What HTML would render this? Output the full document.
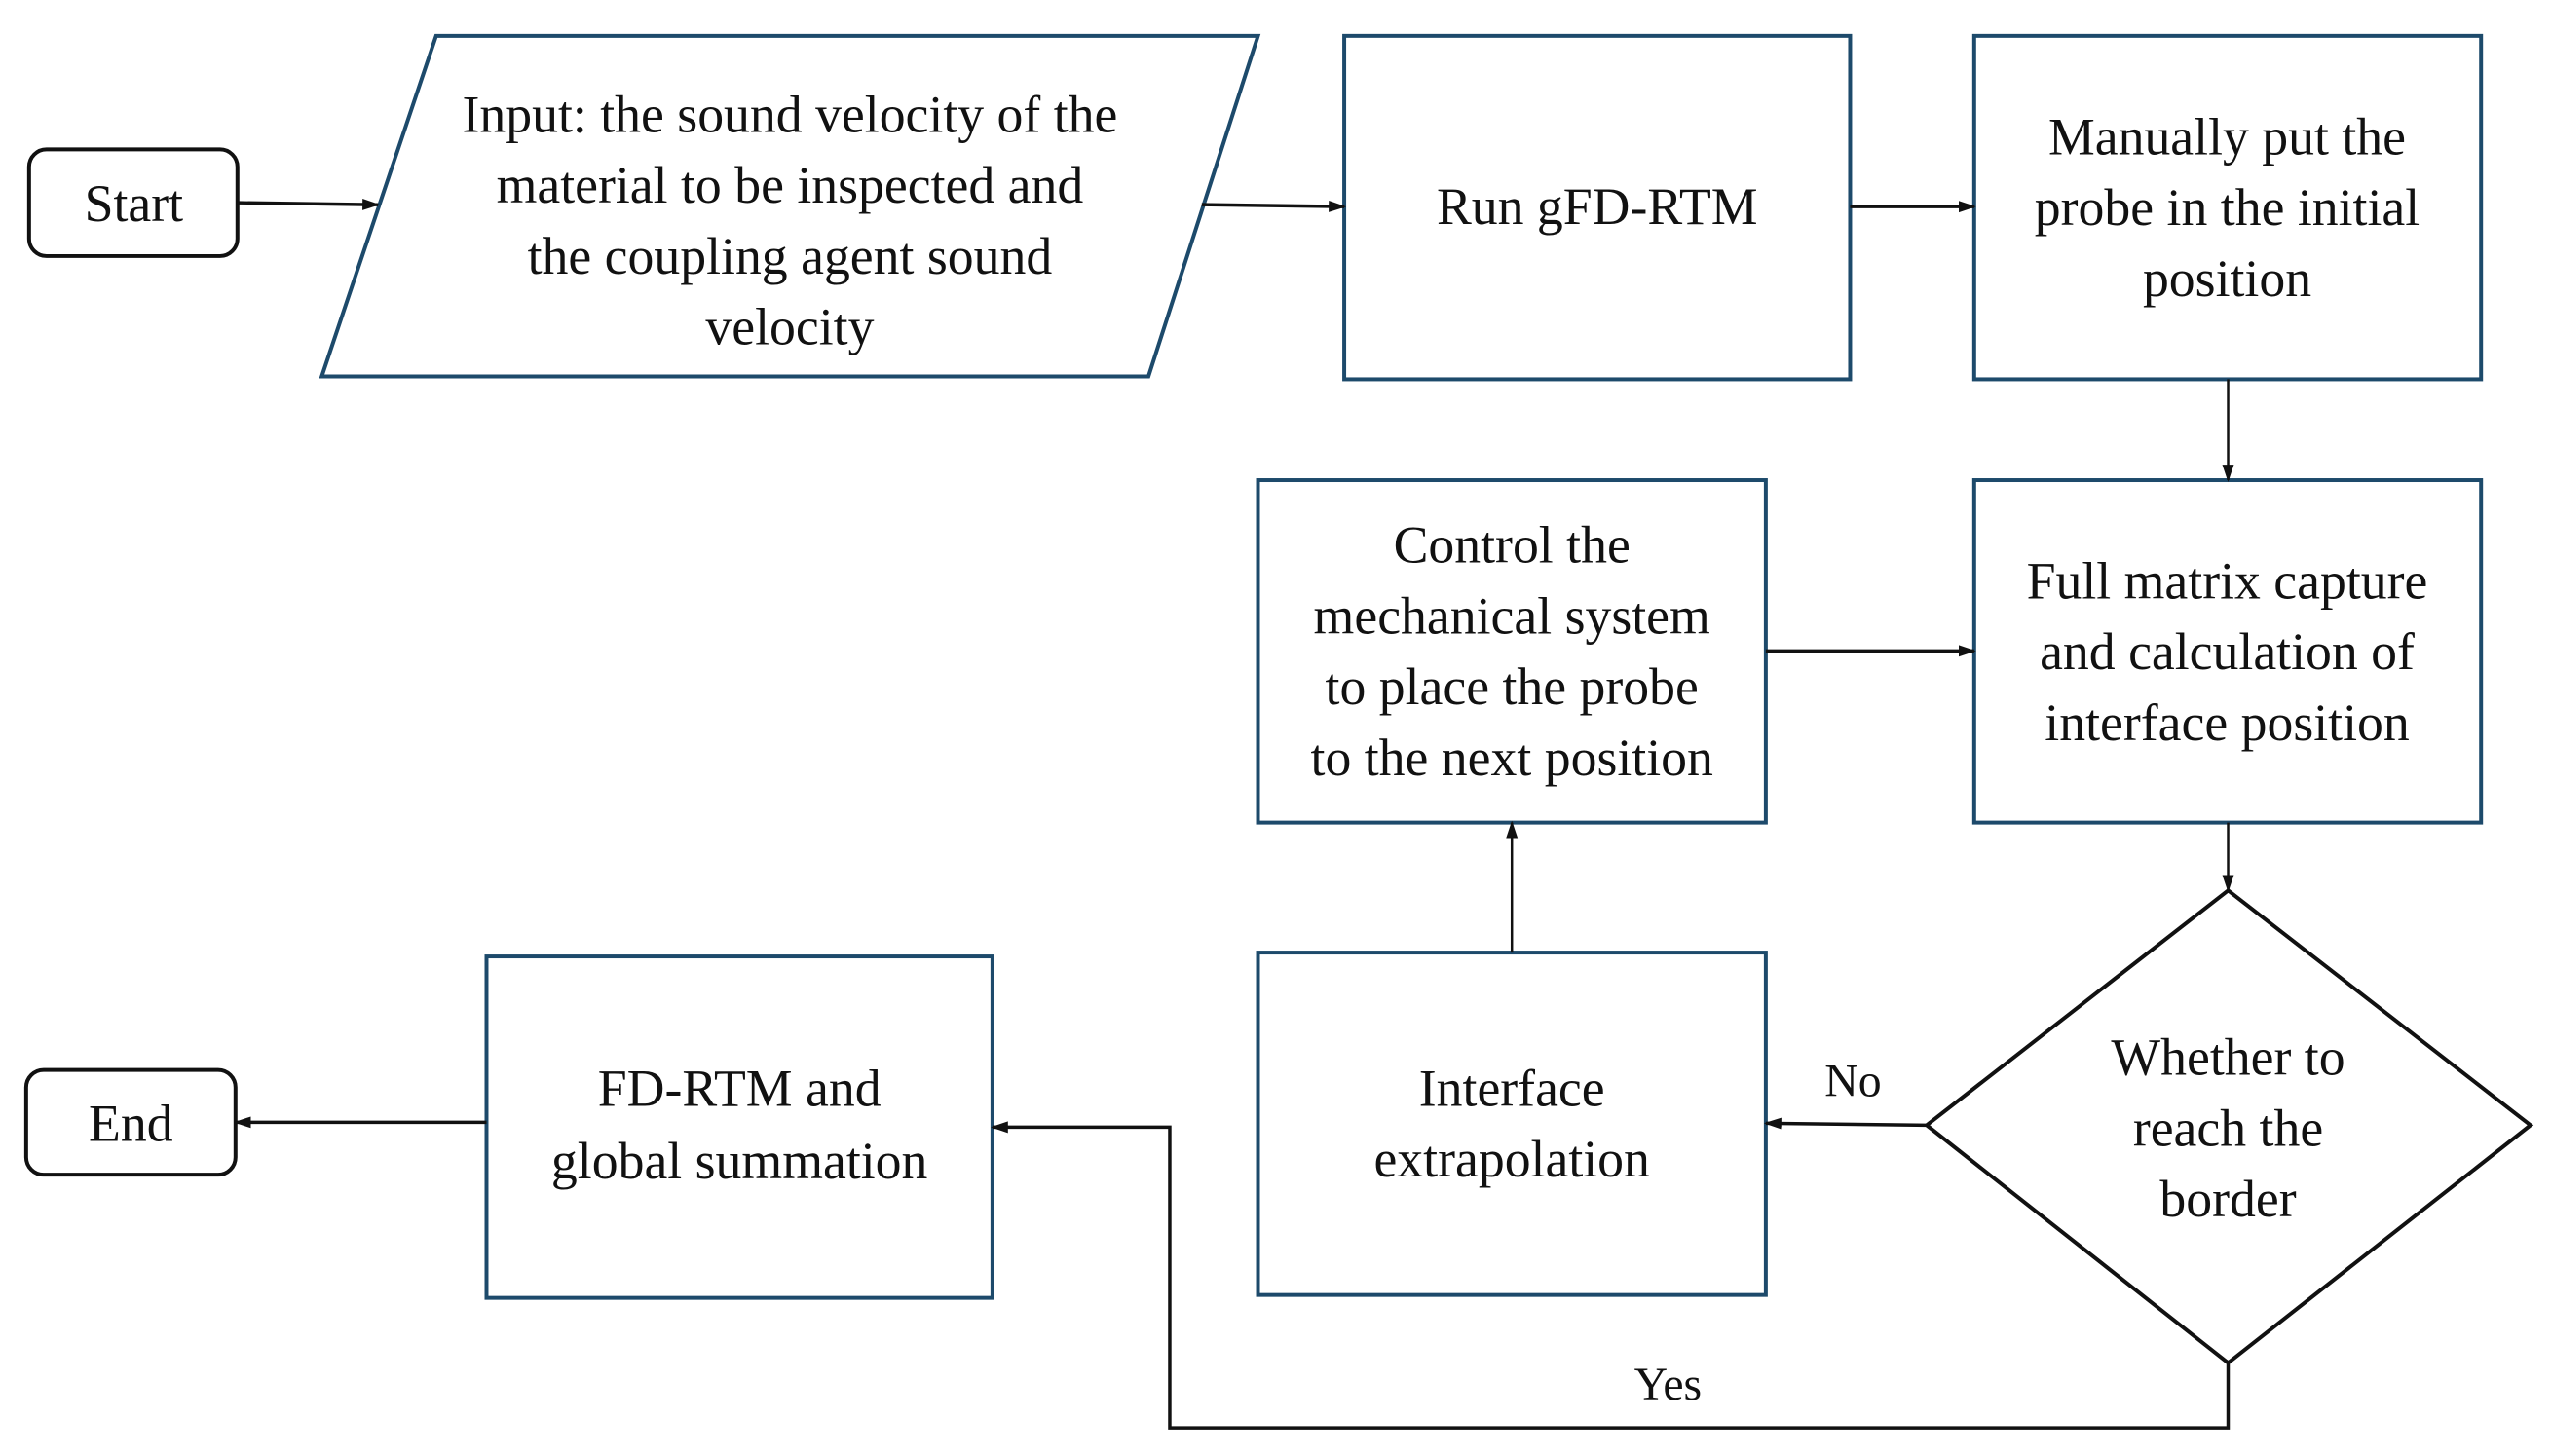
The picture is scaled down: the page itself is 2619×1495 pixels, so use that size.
<!DOCTYPE html>
<html><head><meta charset="utf-8"><style>
html,body{margin:0;padding:0;background:#fff;}
svg{display:block}
text{font-family:"Liberation Serif",serif;font-size:54px;fill:#111;text-anchor:middle}
</style></head><body>
<svg width="2619" height="1495" viewBox="0 0 2619 1495" xmlns="http://www.w3.org/2000/svg">
<defs>
<marker id="b" markerWidth="18" markerHeight="18" refX="16" refY="9" orient="auto" markerUnits="userSpaceOnUse" viewBox="0 0 18 18">
<path d="M0,3 L18,9 L0,15 Z" fill="#111"/></marker>
</defs>
<g transform="scale(0.995,0.996)">
<g fill="#fff" stroke="#1d4a6b" stroke-width="4">
<polygon points="450,37 1298,37 1185,388 332,388"/>
<rect x="1387" y="37" width="522" height="354"/>
<rect x="2037" y="37" width="523" height="354"/>
<rect x="2037" y="495" width="523" height="353"/>
<rect x="1298" y="495" width="524" height="353"/>
<rect x="1298" y="982" width="524" height="353"/>
<rect x="502" y="986" width="522" height="352"/>
</g>
<g fill="#fff" stroke="#111" stroke-width="4">
<rect x="30" y="154" width="215" height="110" rx="18"/>
<rect x="27" y="1103" width="216" height="108" rx="18"/>
<polygon points="2299,918 2611,1160 2299,1405 1988,1160"/>
</g>
<g stroke="#111" stroke-width="3.5" fill="none">
<line x1="245" y1="209" x2="390" y2="211" marker-end="url(#b)"/>
<line x1="1240" y1="211" x2="1387" y2="213" marker-end="url(#b)"/>
<line x1="1909" y1="213" x2="2037" y2="213" marker-end="url(#b)"/>
<line x1="2299" y1="391" x2="2299" y2="495" marker-end="url(#b)" stroke-width="2.5"/>
<line x1="1822" y1="671" x2="2037" y2="671" marker-end="url(#b)"/>
<line x1="2299" y1="848" x2="2299" y2="918" marker-end="url(#b)" stroke-width="2.5"/>
<line x1="1560" y1="982" x2="1560" y2="848" marker-end="url(#b)" stroke-width="2.5"/>
<line x1="1988" y1="1160" x2="1822" y2="1158" marker-end="url(#b)"/>
<polyline points="2299,1405 2299,1472 1207,1472 1207,1162 1024,1162" marker-end="url(#b)"/>
<line x1="502" y1="1157" x2="243" y2="1157" marker-end="url(#b)"/>
</g>
<text x="138" y="228">Start</text>
<text x="135" y="1176">End</text>
<text x="815" y="136">Input: the sound velocity of the</text>
<text x="815" y="209">material to be inspected and</text>
<text x="815" y="282">the coupling agent sound</text>
<text x="815" y="355">velocity</text>
<text x="1648" y="231">Run gFD-RTM</text>
<text x="2298" y="159">Manually put the</text>
<text x="2298" y="232">probe in the initial</text>
<text x="2298" y="305">position</text>
<text x="2298" y="617">Full matrix capture</text>
<text x="2298" y="690">and calculation of</text>
<text x="2298" y="763">interface position</text>
<text x="1560" y="580">Control the</text>
<text x="1560" y="653">mechanical system</text>
<text x="1560" y="726">to place the probe</text>
<text x="1560" y="799">to the next position</text>
<text x="1560" y="1140">Interface</text>
<text x="1560" y="1213">extrapolation</text>
<text x="763" y="1140">FD-RTM and</text>
<text x="763" y="1215">global summation</text>
<text x="2299" y="1108">Whether to</text>
<text x="2299" y="1181">reach the</text>
<text x="2299" y="1254">border</text>
<text x="1912" y="1130" style="font-size:48px">No</text>
<text x="1721" y="1443" style="font-size:48px">Yes</text>
</g>
</svg>
</body></html>
